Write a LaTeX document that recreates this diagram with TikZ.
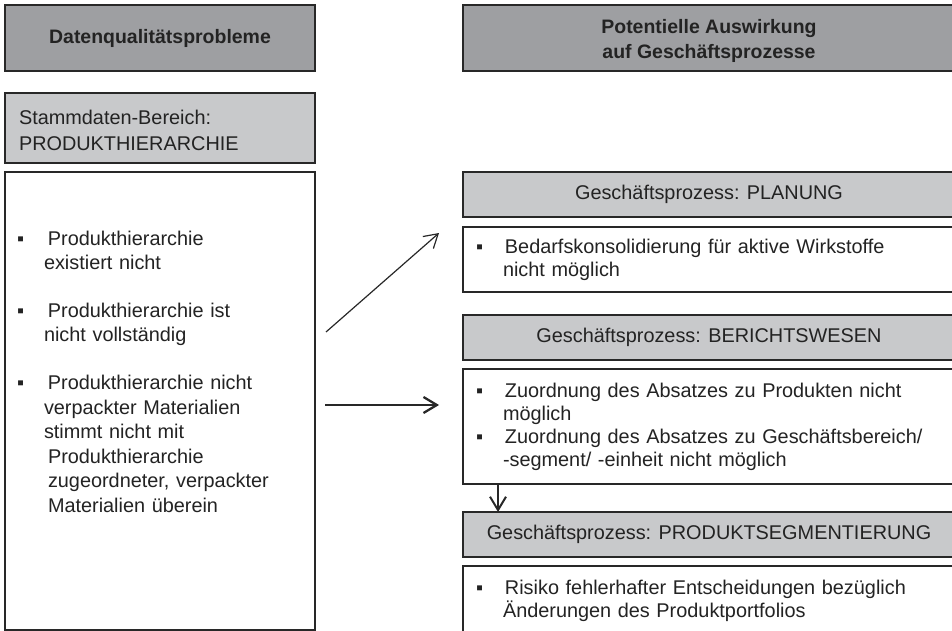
\documentclass[tikz,border=0pt]{standalone}
\usepackage{fontspec}
\setmainfont{Liberation Sans}
\usetikzlibrary{positioning, arrows.meta}

\definecolor{hdrdark}{RGB}{158,159,162}
\definecolor{hdrlight}{RGB}{200,201,203}
\definecolor{framegray}{RGB}{40,40,40}
\definecolor{txtgray}{RGB}{35,35,35}

\newcommand{\lbul}{\makebox[23.25pt][l]{▪}}
\newcommand{\rbul}{\makebox[21.75pt][l]{▪}}

\begin{document}
\begin{tikzpicture}[x=0.75pt, y=0.75pt,
    every node/.style={outer sep=0pt, text=txtgray},
    headbox/.style={draw=framegray, line width=1.5pt, fill=hdrdark, minimum height=49.5pt, align=center, font=\fontsize{14.6}{18.75}\selectfont\bfseries},
    areabox/.style={draw=framegray, line width=1.4pt, fill=hdrlight, minimum width=232.5pt, minimum height=52.5pt, text width=211.5pt, inner xsep=10.5pt, align=left, font=\fontsize{14.9}{19.5}\selectfont},
    listbox/.style={draw=framegray, line width=1.4pt, fill=white, minimum width=232.5pt, minimum height=343.5pt},
    listtext/.style={inner sep=0pt, text width=212pt, align=left, font=\fontsize{14.9}{18.4}\selectfont},
    prochead/.style={draw=framegray, line width=1.4pt, fill=hdrlight, minimum width=369pt, minimum height=33.75pt, font=\fontsize{14.9}{17}\selectfont},
    effectbox/.style={draw=framegray, line width=1.4pt, fill=white, minimum width=369pt, text width=349.5pt, inner xsep=9.75pt, align=left, font=\fontsize{14.9}{17.2}\selectfont},
    flowarrow/.style={draw=framegray, -{Straight Barb[length=10pt, width=12pt]}}
]

\useasboundingbox (0,0) rectangle (952,-631);

% left column
\node[headbox, minimum width=232.5pt, anchor=north west] (hdrL) at (5,-5) {Datenqualitätsprobleme};
\node[areabox, text height=15pt, below=16.5pt of hdrL] (stamm) {Stammdaten-Bereich:\\PRODUKTHIERARCHIE};
\node[listbox, below=6.75pt of stamm] (probs) {};
\node[listtext, anchor=north west] (probsText) at ([shift={(12,-59)}]probs.north west) {%
\lbul Produkthierarchie\\
\hspace*{20.25pt}existiert nicht\\[17.25pt]
\lbul Produkthierarchie ist\\
\hspace*{20.25pt}nicht vollständig\\[17.25pt]
\lbul Produkthierarchie nicht\\
\hspace*{20.25pt}verpackter Materialien\\
\hspace*{20.25pt}stimmt nicht mit\\
\hspace*{23.25pt}Produkthierarchie\\
\hspace*{23.25pt}zugeordneter, verpackter\\
\hspace*{23.25pt}Materialien überein};

% right column
\node[headbox, text height=33.9pt, minimum width=369pt, anchor=north west] (hdrR) at (463,-5) {Potentielle Auswirkung\\auf Geschäftsprozesse};
\node[prochead, anchor=north west] (planHdr) at (463,-172) {Geschäftsprozess: PLANUNG};
\node[effectbox, minimum height=48.75pt, below=7.5pt of planHdr] (planBox) {%
\rbul Bedarfskonsolidierung für aktive Wirkstoffe\\
\hspace*{20.25pt}nicht möglich};
\node[prochead, below=17.25pt of planBox] (berHdr) {Geschäftsprozess: BERICHTSWESEN};
\node[effectbox, minimum height=86.25pt, below=6.75pt of berHdr] (berBox) {%
\rbul Zuordnung des Absatzes zu Produkten nicht\\
\hspace*{20.25pt}möglich\\
\rbul Zuordnung des Absatzes zu Geschäftsbereich/\\
\hspace*{20.25pt}-segment/ -einheit nicht möglich};
\node[prochead, below=21pt of berBox] (segHdr) {Geschäftsprozess: PRODUKTSEGMENTIERUNG};
\node[effectbox, minimum height=52.5pt, below=6.75pt of segHdr] (segBox) {%
\rbul Risiko fehlerhafter Entscheidungen bezüglich\\
\hspace*{20.25pt}Änderungen des Produktportfolios};

% arrows
\draw[flowarrow, line width=0.9pt] ([shift={(11,69)}]probs.east) -- ([shift={(-24,-6)}]planBox.north west);
\path (probs.east) ++(10,-4) coordinate (hStart);
\coordinate (hTip) at (hStart -| planBox.west);
\draw[flowarrow, line width=1.7pt] (hStart) -- ([xshift=-18pt]hTip);
\draw[flowarrow, line width=1.5pt] ([shift={(35,0)}]berBox.south west) -- ([shift={(35,0)}]segHdr.north west);

\end{tikzpicture}
\end{document}
